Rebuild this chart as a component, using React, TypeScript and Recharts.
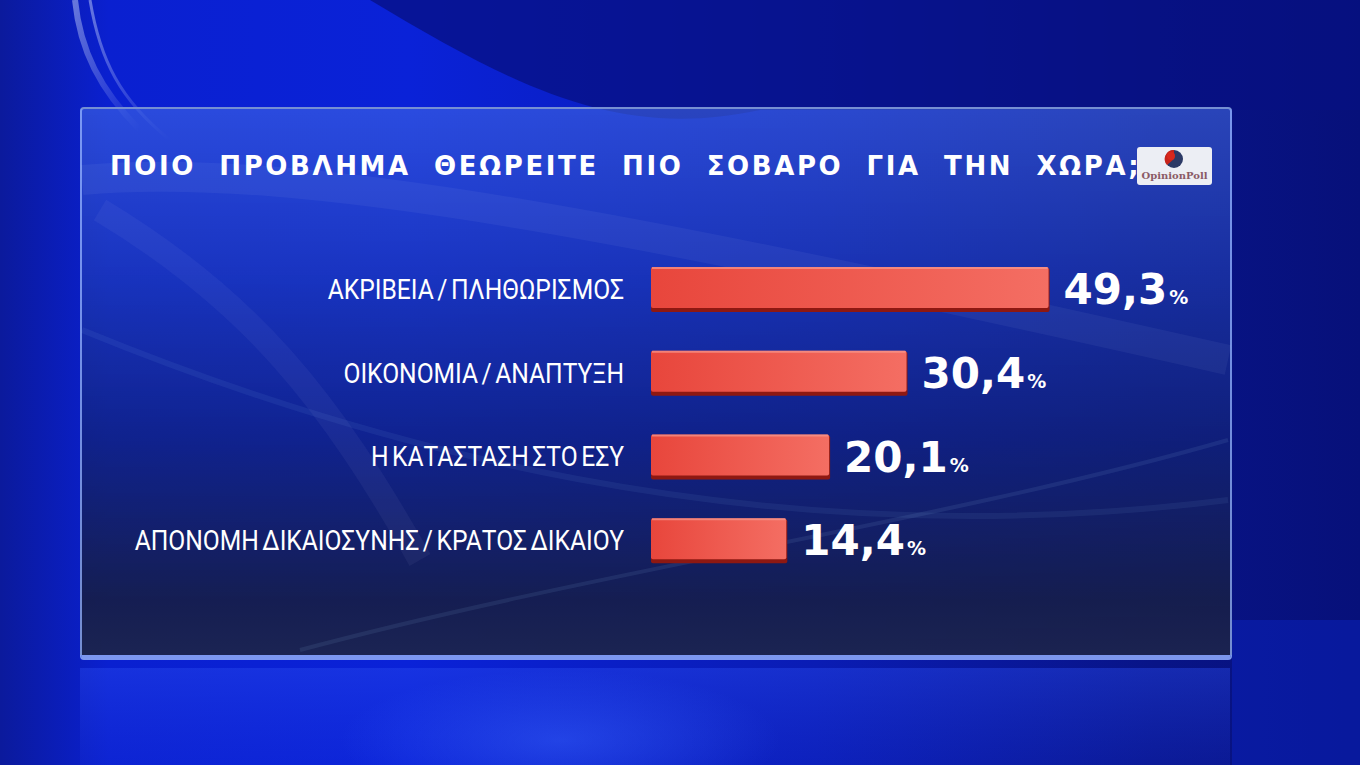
import { BarChart, Bar, XAxis, YAxis, LabelList } from "recharts";

const categories = [
  "ΑΚΡΙΒΕΙΑ / ΠΛΗΘΩΡΙΣΜΟΣ",
  "ΟΙΚΟΝΟΜΙΑ / ΑΝΑΠΤΥΞΗ",
  "Η ΚΑΤΑΣΤΑΣΗ ΣΤΟ ΕΣΥ",
  "ΑΠΟΝΟΜΗ ΔΙΚΑΙΟΣΥΝΗΣ / ΚΡΑΤΟΣ ΔΙΚΑΙΟΥ",
];
const values = [49.3, 30.4, 20.1, 14.4];
const TITLE = "ΠΟΙΟ  ΠΡΟΒΛΗΜΑ  ΘΕΩΡΕΙΤΕ  ΠΙΟ  ΣΟΒΑΡΟ  ΓΙΑ  ΤΗΝ  ΧΩΡΑ;";

// the bars on the tv graphic don't start at zero, they start a bit to the left
const AXIS_FLOOR = -3.6;
const AXIS_MAX = 60;

const data = categories.map((label, i) => ({ label, value: values[i] }));

const fmt = (v: number) => v.toFixed(1).replace(".", ",");

// tall narrow caption font: Roboto squeezed horizontally
function CategoryTick(props: any) {
  const { x, y, payload } = props;
  return (
    <text
      transform={`translate(${x} ${y}) scale(0.88 1)`}
      x={0}
      y={0}
      dy="0.36em"
      textAnchor="end"
      fill="#ffffff"
      fontFamily="Roboto, sans-serif"
      fontSize={28}
      style={{ wordSpacing: -3 }}
    >
      {payload.value}
    </text>
  );
}

function RedBar(props: any) {
  const { x, y, width, height } = props;
  if (!width || width <= 0) return null;
  return (
    <g>
      <rect x={x} y={y + 1} width={width + 1} height={height} fill="#8e1812" rx={2} />
      <rect x={x} y={y} width={width} height={height - 3} fill="url(#barFill)" rx={2} />
      <rect x={x + 1} y={y} width={width - 2} height={2} fill="#f79a90" opacity={0.7} />
    </g>
  );
}

function ValueLabel(props: any) {
  const { x, y, width, height, value } = props;
  return (
    <text
      x={x + width + 15}
      y={y + height / 2 + 15}
      fill="#ffffff"
      fontFamily="'DejaVu Sans', sans-serif"
      fontWeight="bold"
    >
      <tspan fontSize={42}>{fmt(value)}</tspan>
      <tspan fontSize={19} dx={2}>%</tspan>
    </text>
  );
}

export default function App() {
  return (
    <div
      style={{
        position: "fixed",
        left: 0,
        top: 0,
        width: 1360,
        height: 765,
        overflow: "hidden",
        background:
          "linear-gradient(90deg, #0b1a9c 0%, #0a20d0 8%, #0a22d8 30%, #0a1cb4 60%, #081487 85%, #07107a 100%)",
      }}
    >
      {/* backdrop: dark sweep top right, light arcs, floor reflection */}
      <svg width={1360} height={765} style={{ position: "absolute", left: 0, top: 0 }}>
        <defs>
          <linearGradient id="swoosh" x1="0" y1="0" x2="1" y2="1">
            <stop offset="0" stopColor="#d8e4ff" stopOpacity={0.45} />
            <stop offset="1" stopColor="#d8e4ff" stopOpacity={0} />
          </linearGradient>
          <linearGradient id="floor" x1="0" y1="0" x2="0" y2="1">
            <stop offset="0" stopColor="#2a4cf0" stopOpacity={0.4} />
            <stop offset="1" stopColor="#1a35e0" stopOpacity={0.2} />
          </linearGradient>
          <radialGradient id="spot" cx="0.5" cy="0.5" r="0.5">
            <stop offset="0" stopColor="#3a66ff" stopOpacity={0.45} />
            <stop offset="1" stopColor="#3a66ff" stopOpacity={0} />
          </radialGradient>
        </defs>
        <path d="M 370 0 C 520 90, 620 140, 760 110 L 1360 110 L 1360 0 Z" fill="#071082" opacity={0.75} />
        <path d="M 75 0 C 80 50, 100 90, 140 130" stroke="url(#swoosh)" strokeWidth={6} fill="none" />
        <path d="M 90 0 C 100 60, 120 100, 170 140" stroke="url(#swoosh)" strokeWidth={3} fill="none" />
        <rect x={80} y={668} width={1150} height={97} fill="url(#floor)" />
        <ellipse cx={560} cy={740} rx={220} ry={70} fill="url(#spot)" />
        <rect x={1232} y={620} width={128} height={145} fill="#0a22c0" opacity={0.5} />
      </svg>

      {/* glass panel */}
      <div
        style={{
          position: "absolute",
          left: 80,
          top: 107,
          width: 1148,
          height: 546,
          borderRadius: 4,
          border: "2px solid rgba(150,180,255,0.75)",
          borderBottom: "5px solid rgba(140,165,245,0.85)",
          background:
            "linear-gradient(180deg, rgba(70,110,230,0.55) 0%, rgba(35,65,180,0.6) 30%, rgba(18,35,120,0.75) 60%, rgba(22,30,75,0.95) 90%, rgba(28,36,78,0.97) 100%)",
        }}
      />
      <svg width={1360} height={765} style={{ position: "absolute", left: 0, top: 0 }}>
        <path d="M 82 180 C 300 160, 650 230, 1228 360" stroke="#cfe0ff" strokeOpacity={0.06} strokeWidth={30} fill="none" />
        <path d="M 100 210 C 250 300, 330 400, 420 560" stroke="#d0e0ff" strokeOpacity={0.05} strokeWidth={24} fill="none" />
        <path d="M 82 330 C 350 440, 750 560, 1228 500" stroke="#9fd0ff" strokeOpacity={0.07} strokeWidth={6} fill="none" />
        <path d="M 300 650 C 600 570, 950 520, 1228 440" stroke="#8fc4e8" strokeOpacity={0.1} strokeWidth={4} fill="none" />
      </svg>

      {/* title */}
      <div
        style={{
          position: "absolute",
          left: 110,
          top: 148,
          color: "#ffffff",
          fontFamily: "'DejaVu Sans', sans-serif",
          fontWeight: "bold",
          fontSize: 26,
          letterSpacing: 2.6,
          whiteSpace: "pre",
          lineHeight: "36px",
        }}
      >
        {TITLE}
      </div>

      {/* pollster logo */}
      <div
        style={{
          position: "absolute",
          left: 1137,
          top: 147,
          width: 75,
          height: 38,
          borderRadius: 3,
          background: "#eceef4",
        }}
      >
        <svg width={75} height={38}>
          <circle cx={37} cy={12} r={9} fill="#2c3a66" />
          <path d="M 37 3 A 9 9 0 0 0 30 18 L 37 12 Z" fill="#c8231a" />
          <circle cx={34} cy={9} r={4} fill="#d8281c" />
          <text x={37.5} y={32} textAnchor="middle" fontFamily="'DejaVu Serif', serif" fontWeight="bold" fontSize={10} fill="#8a5a66">
            OpinionPoll
          </text>
        </svg>
      </div>

      <div style={{ position: "absolute", left: 0, top: 0 }}>
        <BarChart
          width={1360}
          height={765}
          data={data}
          layout="vertical"
          margin={{ top: 247, right: 231, bottom: 183, left: 0 }}
        >
          <defs>
            <linearGradient id="barFill" x1="0" y1="0" x2="1" y2="0">
              <stop offset="0" stopColor="#e8463c" />
              <stop offset="1" stopColor="#f46e63" />
            </linearGradient>
          </defs>
          <XAxis type="number" domain={[AXIS_FLOOR, AXIS_MAX]} hide allowDataOverflow />
          <YAxis
            type="category"
            dataKey="label"
            width={651}
            axisLine={false}
            tickLine={false}
            tickSize={0}
            tickMargin={27}
            tick={<CategoryTick />}
          />
          <Bar
            dataKey={(d: any) => [AXIS_FLOOR, d.value]}
            barSize={44}
            shape={<RedBar />}
            isAnimationActive={false}
          >
            <LabelList dataKey="value" content={<ValueLabel />} />
          </Bar>
        </BarChart>
      </div>
    </div>
  );
}
